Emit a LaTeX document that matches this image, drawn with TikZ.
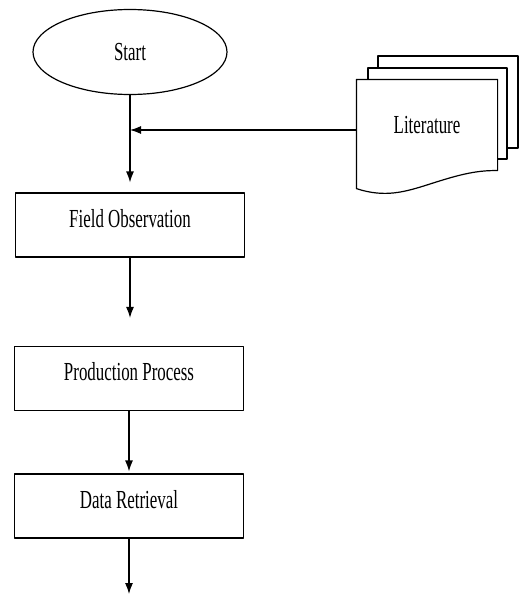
\documentclass[tikz,border=0pt]{standalone}
\usepackage{fontspec}
\setmainfont[FakeStretch=0.65]{Liberation Serif}
\usetikzlibrary{arrows.meta,shapes.geometric}
\tikzset{
  flowtext/.style={font=\fontsize{26bp}{30bp}\selectfont},
  procbox/.style={flowtext,draw,rectangle,minimum width=229bp,minimum height=64bp,
    inner sep=0pt,text height=17bp,text depth=13bp},
  termin/.style={flowtext,draw,ellipse,minimum width=194bp,minimum height=85bp,inner sep=0pt},
}
\begin{document}
\begin{tikzpicture}[>={Latex[length=11bp,width=8bp]},line join=bevel,line width=1.2bp]
\useasboundingbox (0bp,0bp) rectangle (522bp,-594bp);
%%
  % Node: start
  \node[termin] (start) at (130bp,-52bp) {Start};
  % Node: field
  \node[procbox] (field) at (130bp,-225bp) {Field Observation};
  % Node: prod
  \node[procbox] (prod) at (129bp,-378.5bp) {Production Process};
  % Node: data
  \node[procbox] (data) at (129bp,-506bp) {Data Retrieval};
  % Node: lit (stack of documents)
  \draw[fill=white] (378bp,-56bp) rectangle (518bp,-148bp);
  \draw[fill=white] (368bp,-68bp) rectangle (507bp,-159bp);
  \node[flowtext,minimum width=140bp,minimum height=90bp,inner sep=0pt] (lit) at (427bp,-125bp) {};
  \draw[fill=white] (lit.north west) -- (lit.north east) -- (lit.south east)
    .. controls (475bp,-170bp) and (455bp,-176bp) .. (430bp,-184bp)
    .. controls (405bp,-192bp) and (385bp,-198bp) .. ([yshift=-18bp]lit.south west) -- cycle;
  \node[flowtext] at (lit.center) {Literature};
  \coordinate (join) at (start.south |- 0bp,-130bp);
  \coordinate (stop) at (129bp,-594bp);
  % Edge: start -> field
  \draw[->,shorten >=10bp] (start) -- (field);
  % Edge: lit -> join
  \draw[->] ([yshift=-5bp]lit.west) -- (join);
  % Edge: field -> prod
  \draw[->,shorten >=28bp] (field.south) -- (field.south |- prod.north);
  % Edge: prod -> data
  \draw[->,shorten >=2bp] (prod) -- (data);
  % Edge: data -> stop
  \draw[->] (data) -- (stop);
%
\end{tikzpicture}
\end{document}
